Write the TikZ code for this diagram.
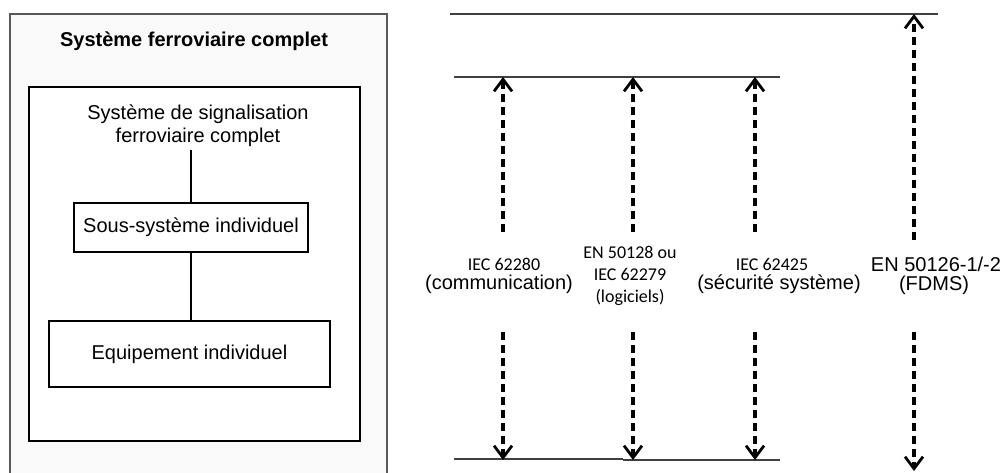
\documentclass[tikz,border=0pt]{standalone}
\usepackage{fontspec}
\setmainfont{Liberation Sans}
\newfontfamily\calib{Carlito}
\usetikzlibrary{arrows.meta}

\begin{document}
\begin{tikzpicture}[x=1pt,y=-1pt,
  every node/.style={font=\fontsize{20}{23}\selectfont},
  stdlbl/.style={font=\calib\fontsize{18}{22}\selectfont,inner sep=1pt},
  namelbl/.style={inner sep=1pt},
  blk/.style={draw,line width=2.4pt},
  lvl/.style={line width=1.6pt,draw=black!75},
  dasharr/.style={line width=3.2pt,dash pattern=on 8pt off 5pt,
    -{Straight Barb[length=12pt,width=18pt,line width=2.8pt]}}]
  \useasboundingbox (0,0) rectangle (1003,472);
  % left panel
  \draw[draw=black!65,line width=1.5pt,fill=gray!5] (10,14) rectangle (387,490);
  \node[font=\bfseries\fontsize{20}{23}\selectfont] (title) at (194,41) {Système ferroviaire complet};
  \node[blk,fill=white,minimum width=331pt,minimum height=354pt] (sigbox) at (194.5,264) {};
  \node[align=center] (sig) at (198,126) {Système de signalisation\\ferroviaire complet};
  \node[blk,minimum width=234pt,minimum height=49pt] (sub) at (191,227.5) {Sous-système individuel};
  \node[blk,minimum width=281pt,minimum height=66pt] (equip) at (189.5,354) {Equipement individuel};
  \draw[line width=2.4pt] (sub.north |- sig.south) -- (sub.north);
  \draw[line width=2.4pt] (sub.south) -- (sub.south |- equip.north);
  % levels
  \coordinate (top0) at (450,14);  \coordinate (top1) at (938,14);
  \coordinate (mid0) at (454,77);  \coordinate (mid1) at (780,77);
  \coordinate (bot0) at (454,459); \coordinate (botk) at (623,459);
  \coordinate (botj) at (623,460); \coordinate (bot1) at (780,460);
  \draw[lvl] (top0) -- (top1);
  \draw[lvl] (mid0) -- (mid1);
  \draw[lvl] (bot0) -- (botk);
  \draw[lvl] (botj) -- (bot1);
  % standards
  \node[stdlbl] (n1a) at (504,264) {IEC 62280};
  \node[namelbl] (n1b) at (499,284) {(communication)};
  \node[stdlbl,align=center] (n2) at (630,276) {EN 50128 ou\\IEC 62279\\(logiciels)};
  \node[stdlbl] (n3a) at (772,264) {IEC 62425};
  \node[namelbl] (n3b) at (779,284) {(sécurité système)};
  \node[namelbl] (n4a) at (936,264) {EN 50126-1/-2};
  \node[namelbl] (n4b) at (934,285) {(FDMS)};
  % arrows
  \foreach \x/\n in {503/a,633/b,755/c}{
    \coordinate (up\n) at (\x,77);  \coordinate (us\n) at (\x,232);
    \coordinate (dn\n) at (\x,460); \coordinate (ds\n) at (\x,332);
    \draw[dasharr] (us\n) -- (up\n);
    \draw[dasharr] (ds\n) -- (dn\n);
  }
  \coordinate (upd) at (914,14);  \coordinate (usd) at (914,240);
  \coordinate (dnd) at (914,471); \coordinate (dsd) at (914,332);
  \draw[dasharr] (usd) -- (upd);
  \draw[dasharr] (dsd) -- (dnd);
\end{tikzpicture}
\end{document}
